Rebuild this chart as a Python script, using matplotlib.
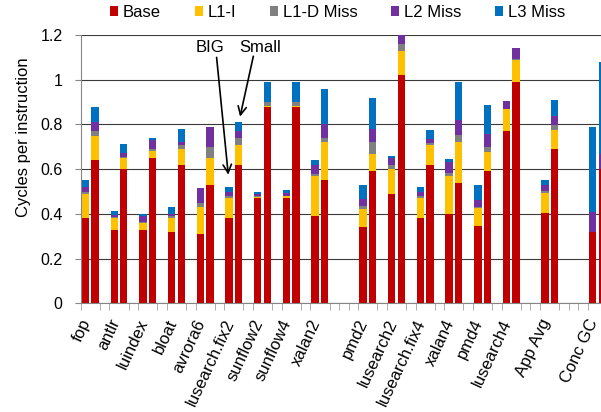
import matplotlib
matplotlib.use("Agg")
import matplotlib.pyplot as plt
import matplotlib.transforms as mtransforms
from matplotlib.patches import Patch
import numpy as np

plt.rcParams["font.family"] = ["Liberation Sans", "DejaVu Sans"]

benchmarks = ["fop", "antlr", "luindex", "bloat", "avrora6", "lusearch.fix2",
              "sunflow2", "sunflow4", "xalan2", "pmd2", "lusearch2", "lusearch.fix4",
              "xalan4", "pmd4", "lusearch4", "App Avg", "Conc GC"]

# CPI stack per benchmark, BIG core then Small core
big_base = [0.38, 0.33, 0.33, 0.32, 0.31, 0.38, 0.47, 0.47, 0.39, 0.34, 0.49, 0.38, 0.40, 0.345, 0.77, 0.405, 0.32]
big_l1i = [0.11, 0.05, 0.03, 0.06, 0.12, 0.09, 0.007, 0.008, 0.18, 0.08, 0.11, 0.09, 0.17, 0.08, 0.10, 0.09, 0.0]
big_l1d = [0.01, 0.005, 0.005, 0.01, 0.02, 0.01, 0.004, 0.004, 0.01, 0.015, 0.02, 0.01, 0.012, 0.007, 0.0, 0.009, 0.0]
big_l2 = [0.02, 0.01, 0.025, 0.01, 0.065, 0.02, 0.01, 0.011, 0.04, 0.03, 0.03, 0.02, 0.048, 0.032, 0.036, 0.024, 0.087]
big_l3 = [0.03, 0.02, 0.01, 0.03, 0.0, 0.02, 0.005, 0.012, 0.02, 0.065, 0.01, 0.02, 0.016, 0.063, 0.0, 0.022, 0.38]

small_base = [0.64, 0.60, 0.65, 0.62, 0.53, 0.62, 0.88, 0.88, 0.55, 0.59, 1.02, 0.62, 0.54, 0.59, 0.99, 0.69, 0.60]
small_l1i = [0.11, 0.05, 0.03, 0.07, 0.12, 0.09, 0.002, 0.002, 0.17, 0.08, 0.11, 0.09, 0.18, 0.085, 0.10, 0.087, 0.0]
small_l1d = [0.02, 0.003, 0.01, 0.02, 0.05, 0.03, 0.02, 0.02, 0.02, 0.05, 0.03, 0.005, 0.033, 0.026, 0.003, 0.022, 0.0]
small_l2 = [0.04, 0.02, 0.04, 0.01, 0.09, 0.03, 0.0, 0.0, 0.06, 0.06, 0.05, 0.02, 0.069, 0.056, 0.047, 0.039, 0.07]
small_l3 = [0.07, 0.04, 0.01, 0.06, 0.0, 0.04, 0.09, 0.09, 0.16, 0.14, 0.0, 0.04, 0.17, 0.13, 0.0, 0.073, 0.41]

components = ["Base", "L1-I", "L1-D Miss", "L2 Miss", "L3 Miss"]
colors = ["#C00000", "#FFC000", "#808080", "#7030A0", "#0070C0"]

# empty category slots in front of each benchmark pair
gap_before = [0, 1, 1, 1, 1, 1, 1, 1, 1, 3, 1, 1, 1, 1, 1, 2, 3]

starts = []
pos = 0
for g in gap_before:
    pos += g
    starts.append(pos)
    pos += 2
starts = np.array(starts, dtype=float)
x_big = starts + 0.5
x_small = starts + 1.5

fig = plt.figure(figsize=(6.01, 4.12), dpi=100)
ax = fig.add_axes([0.1343, 0.2638, 0.8657, 0.6512])

bw = 0.77
for xs, stack in [(x_big, [big_base, big_l1i, big_l1d, big_l2, big_l3]),
                  (x_small, [small_base, small_l1i, small_l1d, small_l2, small_l3])]:
    bottom = np.zeros(len(xs))
    for vals, c in zip(stack, colors):
        vals = np.array(vals)
        ax.bar(xs, vals, bw, bottom=bottom, color=c, edgecolor="none", zorder=2)
        bottom += vals

ax.set_xlim(0, 54.37)
ax.set_ylim(0, 1.2)
yt = np.arange(0, 1.21, 0.2)
ax.set_yticks(yt)
ax.set_yticklabels(["0", "0.2", "0.4", "0.6", "0.8", "1", "1.2"], fontsize=11.5)
ax.yaxis.grid(True, color="#3a3a3a", lw=0.8, zorder=0)
ax.set_axisbelow(True)
ax.tick_params(axis="y", length=4, color="#868686", pad=9)

ax.set_xticks(starts + 1)
ax.set_xticklabels(benchmarks, rotation=65, ha="right", va="center",
                   rotation_mode="anchor", fontsize=12)
ax.set_xticks(np.arange(0, 55), minor=True)
ax.tick_params(axis="x", which="major", length=0, pad=12)
ax.tick_params(axis="x", which="minor", length=5, color="#a0a0a0")
shift = mtransforms.ScaledTranslation(-0.035, 0, fig.dpi_scale_trans)
for lbl in ax.get_xticklabels():
    lbl.set_transform(lbl.get_transform() + shift)

for s in ["top", "right"]:
    ax.spines[s].set_visible(False)
ax.spines["left"].set_color("#868686")
ax.spines["bottom"].set_color("#868686")

ax.set_ylabel("Cycles per instruction", fontsize=12)
ax.yaxis.set_label_coords(-0.096, 0.621)

# call out the BIG and Small bars of lusearch.fix2
i = benchmarks.index("lusearch.fix2")
big_top = big_base[i] + big_l1i[i] + big_l1d[i] + big_l2[i] + big_l3[i]
small_top = small_base[i] + small_l1i[i] + small_l1d[i] + small_l2[i] + small_l3[i]
arrow = dict(arrowstyle="->,head_length=0.6,head_width=0.3", color="black", lw=1.2,
             shrinkA=0, shrinkB=0)
ax.annotate("", xy=(x_big[i] - 0.08, big_top + 0.055), xytext=(14.2, 1.10), arrowprops=arrow)
ax.annotate("", xy=(x_small[i] + 0.15, small_top + 0.025), xytext=(18.04, 1.105), arrowprops=arrow)
ax.text(13.5, 1.144, "BIG", ha="center", va="center", fontsize=12)
ax.text(18.7, 1.142, "Small", ha="center", va="center", fontsize=12)

handles = [Patch(facecolor=c, edgecolor="none") for c in colors]
fig.legend(handles, components, loc="center left", bbox_to_anchor=(110 / 601, 1 - 12.5 / 412),
           ncol=5, frameon=False, fontsize=12, handlelength=0.48, handleheight=0.48,
           handletextpad=0.28, columnspacing=2.04, borderpad=0, borderaxespad=0)

fig.savefig("out.png", dpi=100, facecolor="white")
